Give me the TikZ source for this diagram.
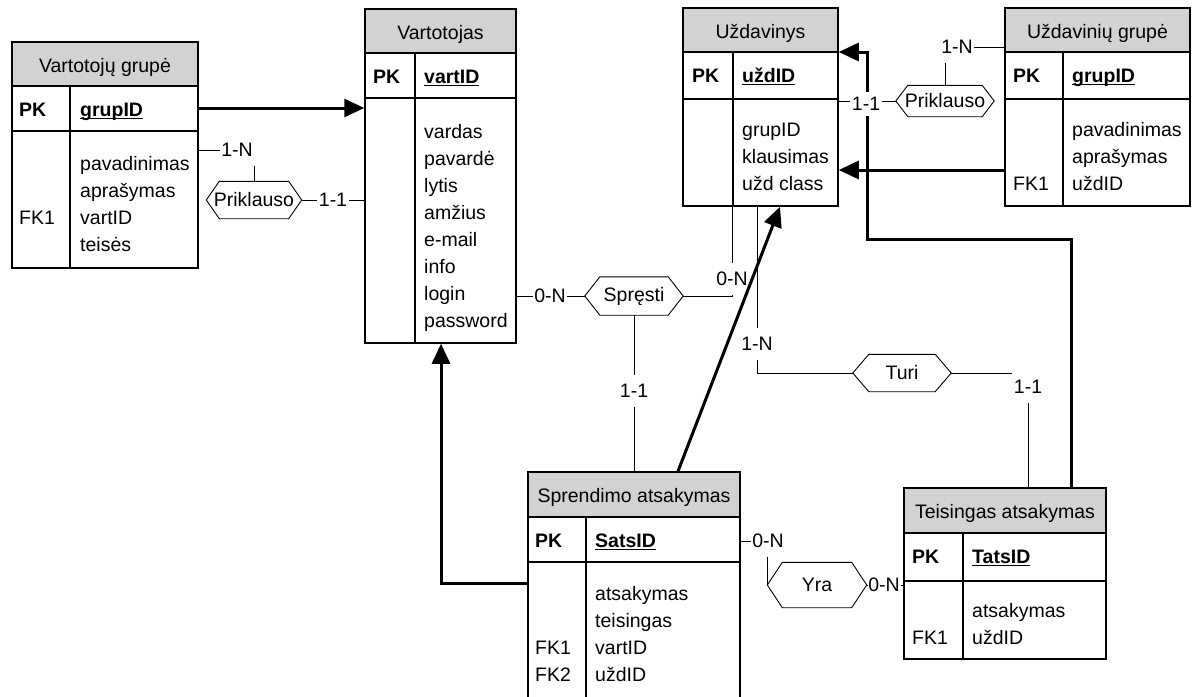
\documentclass[tikz,border=0pt]{standalone}
\usepackage{fontspec}
\setmainfont{Liberation Sans}
\usetikzlibrary{arrows.meta,fit}
\definecolor{hdrgray}{RGB}{210,210,210}

% bold, underlined primary key
\newcommand{\pkey}[1]{\setbox0=\hbox{\bfseries #1}\rlap{\rule[-3pt]{\wd0}{1.4pt}}\box0}

% entity table: name, left, top, right, bottom, header bottom, key row bottom, column divider, title
\newcommand{\entity}[9]{%
  \fill[hdrgray] (#2,#3) rectangle (#4,#6);
  \node[tablebox, fit={(#2,#3) (#4,#5)}] (#1) {};
  \draw[grid] (#2,#6) -- (#4,#6) (#2,#7) -- (#4,#7) (#8,#6) -- (#8,#5);
  \node[ttl] (#1-title) at ({(#2+#4)/2},{#3+30}) {#9};
}

% attribute lines: name prefix, x, first baseline, list
\newcommand{\attrs}[4]{%
  \foreach \attr [count=\idx] in {#4} {\node[txt] (#1\idx) at (#2,{#3+27*(\idx-1)}) {\attr};}
}

\begin{document}
\begin{tikzpicture}[x=1pt,y=-1pt,
  every node/.style={font=\fontsize{19.5}{27}\selectfont},
  tablebox/.style={draw, line width=1.5pt, inner sep=0pt},
  grid/.style={line width=1.5pt},
  txt/.style={inner sep=0pt, anchor=base west},
  bf/.style={txt, font=\fontsize{19.5}{27}\selectfont\bfseries},
  ttl/.style={inner sep=0pt, anchor=base},
  card/.style={fill=white, inner xsep=1.5pt, inner ysep=9pt},
  relbox/.style={inner sep=0pt},
  rel/.style={line width=0.9pt},
  fk/.style={line width=3pt, -{Triangle[length=20pt,width=18pt]}},
]
\useasboundingbox (0,0) rectangle (1196,696);

% ---- entities ----
\entity{vg}{12}{42}{198}{268}{86}{131}{70}{Vartotojų grupė}
\node[bf] (vg-pk) at (19,116) {PK};
\node[txt] (vg-key) at (80,116) {\pkey{grupID}};
\attrs{vg-a}{80}{170}{pavadinimas,aprašymas,vartID,teisės}
\node[txt] (vg-fk1) at (19,224) {FK1};

\entity{vt}{365}{9}{516}{343}{53}{98}{415}{Vartotojas}
\node[bf] (vt-pk) at (373,83) {PK};
\node[txt] (vt-key) at (424,83) {\pkey{vartID}};
\attrs{vt-a}{424}{138}{vardas,pavardė,lytis,amžius,e-mail,info,login,password}

\entity{uz}{683}{8}{838}{206}{52}{99}{733}{Uždavinys}
\node[bf] (uz-pk) at (692,82) {PK};
\node[txt] (uz-key) at (742,82) {\pkey{uždID}};
\attrs{uz-a}{742}{136}{grupID,klausimas,užd class}

\entity{ug}{1005}{8}{1190}{206}{52}{99}{1063}{Uždavinių grupė}
\node[bf] (ug-pk) at (1013,82) {PK};
\node[txt] (ug-key) at (1072,82) {\pkey{grupID}};
\attrs{ug-a}{1072}{136}{pavadinimas,aprašymas,uždID}
\node[txt] (ug-fk1) at (1013,190) {FK1};

\entity{sa}{528}{472}{740}{705}{517}{562}{586}{Sprendimo atsakymas}
\node[bf] (sa-pk) at (535,547) {PK};
\node[txt] (sa-key) at (595,547) {\pkey{SatsID}};
\attrs{sa-a}{595}{600}{atsakymas,teisingas,vartID,uždID}
\node[txt] (sa-fk1) at (535,654) {FK1};
\node[txt] (sa-fk2) at (535,681) {FK2};

\entity{te}{904}{488}{1106}{659}{533}{581}{963}{Teisingas atsakymas}
\node[bf] (te-pk) at (912,563) {PK};
\node[txt] (te-key) at (972,563) {\pkey{TatsID}};
\attrs{te-a}{972}{617}{atsakymas,uždID}
\node[txt] (te-fk1) at (912,644) {FK1};

% ---- relationships ----
\node[relbox, minimum width=95pt, minimum height=37pt] (rg1) at (254,200) {Priklauso};
\node[relbox, minimum width=98pt, minimum height=31pt] (rg2) at (945,101) {Priklauso};
\node[relbox, minimum width=98pt, minimum height=38pt] (rsp) at (634,296) {Spręsti};
\node[relbox, minimum width=98pt, minimum height=37pt] (rturi) at (902,373) {Turi};
\node[relbox, minimum width=99pt, minimum height=45pt] (ryra) at (817,585) {Yra};
\foreach \nm/\dd in {rg1/13,rg2/12,rsp/15,rturi/16,ryra/15}
  \draw[rel] (\nm.west) -- ([xshift=\dd pt]\nm.north west) -- ([xshift=-\dd pt]\nm.north east)
    -- (\nm.east) -- ([xshift=-\dd pt]\nm.south east) -- ([xshift=\dd pt]\nm.south west) -- cycle;

% ---- cardinalities ----
\node[card] (c1) at (237,150) {1-N};
\node[card] (c2) at (333,200) {1-1};
\node[card] (c3) at (957,47) {1-N};
\node[card] (c5) at (550,296) {0-N};
\node[card] (c6) at (634,391) {1-1};
\node[card] (c7) at (732,279) {0-N};
\node[card] (c8) at (757,344) {1-N};
\node[card] (c9) at (1028,387) {1-1};
\node[card] (c10) at (768,541) {0-N};
\node[card] (c11) at (884,585) {0-N};

% ---- foreign key references ----
\draw[fk] (vg.east |- 0,108) -- (vt.west |- 0,108);
\draw[fk] (sa.west |- 0,583) -| (vt.south -| 441,0);
\draw[fk] (sa.north -| 678,0) -- (uz.south -| 780,0);
\draw[fk] (ug.west |- 0,170) -- (uz.east |- 0,170);
\draw[fk] (te.north -| 1071,0) |- (867,239) |- (uz.east |- 0,52);

\node[card, inner ysep=5pt] (c4) at (866,104) {1-1};

% ---- relationship connectors ----
\draw[rel] (vg.east |- c1) -- (c1.west);
\draw[rel] (c1.south -| rg1.north) -- (rg1.north);
\draw[rel] (rg1.east) -- (c2.west |- rg1.east);
\draw[rel] (c2.east |- rg1.east) -- (vt.west |- rg1.east);
\draw[rel] (ug.west |- c3) -- (c3.east);
\draw[rel] (c3.south -| rg2.north) -- (rg2.north);
\draw[rel] (uz.east |- rg2.west) -- (c4.west |- rg2.west);
\draw[rel] (c4.east |- rg2.west) -- (rg2.west);
\draw[rel] (vt.east |- rsp.west) -- (c5.west |- rsp.west);
\draw[rel] (c5.east |- rsp.west) -- (rsp.west);
\draw[rel] (rsp.south) -- (c6.north);
\draw[rel] (c6.south) -- (sa.north -| c6.south);
\draw[rel] (rsp.east) -| (c7.south);
\draw[rel] (c7.north) -- (uz.south -| c7.north);
\draw[rel] (uz.south -| c8.north) -- (c8.north);
\draw[rel] (c8.south) |- (rturi.west);
\draw[rel] (rturi.east) -- (c9.west |- rturi.east);
\draw[rel] (c9.south) -- (te.north -| c9.south);
\draw[rel] (sa.east |- c10.west) -- (c10.west);
\draw[rel] (c10.south -| ryra.west) -- (ryra.west);
\draw[rel] (ryra.east) -- (c11.west |- ryra.east);
\draw[rel] (c11.east |- ryra.east) -- (te.west |- ryra.east);
\end{tikzpicture}
\end{document}
